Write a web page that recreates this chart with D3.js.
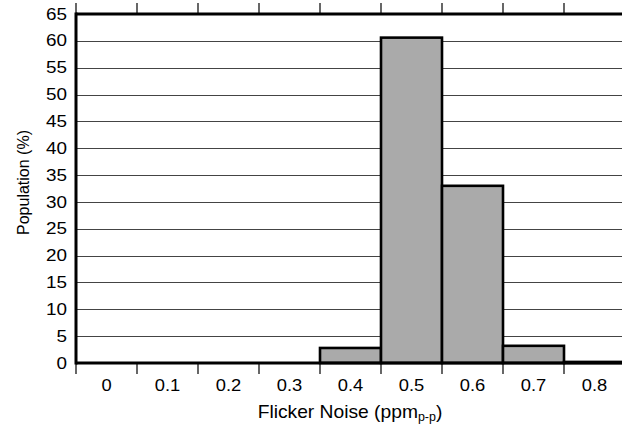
<!DOCTYPE html>
<html>
<head>
<meta charset="utf-8">
<script src="https://cdn.jsdelivr.net/npm/d3@7"></script>
<style>
    body { margin: 0; background: #fff; }
    text { font-family: "Liberation Sans", Arial, sans-serif; fill: #000; }
</style>
</head>
<body>
<svg id="chart"></svg>
<script>
// histogram data
var categories = ['0', '0.1', '0.2', '0.3', '0.4', '0.5', '0.6', '0.7', '0.8'];
var population = [0, 0, 0, 0, 2.8, 60.6, 33.0, 3.2, 0.2];
var yTicks = [0, 5, 10, 15, 20, 25, 30, 35, 40, 45, 50, 55, 60, 65];

(function () {
    var width = 622, height = 430;
    var left = 76, top = 14, bottom = 363, right = 625;

    var svg = d3.select('#chart')
        .attr('width', width)
        .attr('height', height);

    var x = d3.scaleBand()
        .domain(categories)
        .range([left, right])
        .padding(0);

    var y = d3.scaleLinear()
        .domain([0, 65])
        .range([bottom, top]);

    // horizontal grid lines
    svg.append('g').selectAll('line')
        .data(yTicks.filter(function (d) { return d > 0 && d < 65; }))
        .enter().append('line')
            .attr('x1', left).attr('x2', width)
            .attr('y1', function (d) { return Math.round(y(d)) + 0.5; })
            .attr('y2', function (d) { return Math.round(y(d)) + 0.5; })
            .attr('stroke', '#444')
            .attr('stroke-width', 1.2);

    // bars
    svg.append('g').selectAll('rect')
        .data(population.map(function (v, i) { return { cat: categories[i], value: v }; }).filter(function (d) { return d.value > 0; }))
        .enter().append('rect')
            .attr('x', function (d) { return x(d.cat); })
            .attr('width', x.bandwidth())
            .attr('y', function (d) { return y(d.value); })
            .attr('height', function (d) { return y(0) - y(d.value); })
            .attr('fill', '#aaaaaa')
            .attr('stroke', '#000')
            .attr('stroke-width', 2.6);

    // frame lines (left, top, bottom)
    var frame = svg.append('g').attr('stroke', '#000').attr('stroke-width', 3);
    frame.append('line').attr('x1', left).attr('x2', left).attr('y1', top - 1.5).attr('y2', bottom + 1.5);
    frame.append('line').attr('x1', left).attr('x2', width).attr('y1', top).attr('y2', top);
    frame.append('line').attr('x1', left).attr('x2', width).attr('y1', bottom).attr('y2', bottom);

    // tick marks at band edges, top and bottom
    var edges = categories.map(function (c) { return x(c); });
    svg.append('g').selectAll('line')
        .data(edges)
        .enter().append('line')
            .attr('x1', function (d) { return d; }).attr('x2', function (d) { return d; })
            .attr('y1', top - 11).attr('y2', top)
            .attr('stroke', '#000').attr('stroke-width', 1.2);
    svg.append('g').selectAll('line')
        .data(edges)
        .enter().append('line')
            .attr('x1', function (d) { return d; }).attr('x2', function (d) { return d; })
            .attr('y1', bottom).attr('y2', bottom + 11)
            .attr('stroke', '#000').attr('stroke-width', 1.2);

    // y axis labels (slightly widened glyphs like the original)
    var yAxis = svg.append('g')
        .attr('transform', 'translate(' + left + ',0)')
        .call(d3.axisLeft(y).tickValues(yTicks).tickSize(0).tickPadding(7.6));
    yAxis.select('.domain').remove();
    yAxis.selectAll('text')
        .style('font-family', '"Liberation Sans", Arial, sans-serif')
        .style('font-size', '16px')
        .attr('transform', 'scale(1.18,1)')
        .attr('fill', '#000');

    // x axis labels at band centres
    var xAxis = svg.append('g')
        .attr('transform', 'translate(0,' + bottom + ')')
        .call(d3.axisBottom(x).tickSize(0).tickPadding(16));
    xAxis.select('.domain').remove();
    xAxis.selectAll('text')
        .style('font-family', '"Liberation Sans", Arial, sans-serif')
        .style('font-size', '17px')
        .attr('transform', 'scale(1.08,1)')
        .attr('fill', '#000');

    // axis titles
    svg.append('text')
        .attr('transform', 'translate(29,182.5) rotate(-90)')
        .attr('text-anchor', 'middle')
        .style('font-size', '16px')
        .text('Population (%)');

    var xt = svg.append('text')
        .attr('transform', 'translate(350,417.5) scale(1.04,1)')
        .attr('text-anchor', 'middle')
        .style('font-size', '18.5px');
    xt.append('tspan').text('Flicker Noise (ppm');
    xt.append('tspan').attr('baseline-shift', '-4').style('font-size', '12px').text('p-p');
    xt.append('tspan').text(')');
}());
</script>
</body>
</html>
